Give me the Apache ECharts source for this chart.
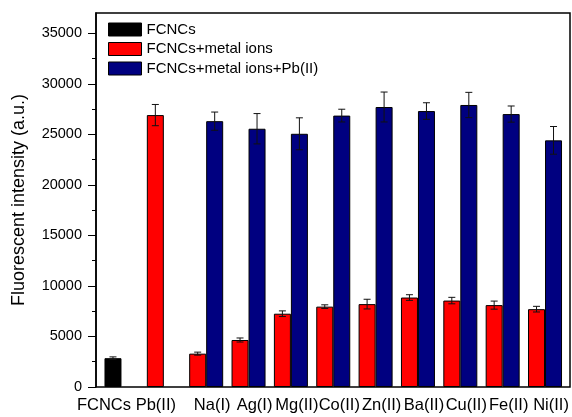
<!DOCTYPE html>
<html>
<head>
<meta charset="utf-8">
<script src="https://cdn.jsdelivr.net/npm/echarts@6/dist/echarts.min.js"></script>
<style>
html,body{margin:0;padding:0;background:#fff;}
#chart{width:572px;height:417px;}
</style>
</head>
<body>
<div id="chart"></div>
<script>
const categories = ['FCNCs','Pb(II)','Na(I)','Ag(I)','Mg(II)','Co(II)','Zn(II)','Ba(II)','Cu(II)','Fe(II)','Ni(II)'];
const fcncs      = [2850, null, null, null, null, null, null, null, null, null, null];
const fcncsErr   = [130, null, null, null, null, null, null, null, null, null, null];
const metal      = [null, 26900, 3300, 4650, 7250, 7950, 8200, 8850, 8550, 8100, 7700];
const metalErr   = [null, 1050, 150, 200, 280, 180, 480, 280, 320, 400, 280];
const metalPb    = [null, null, 26300, 25550, 25050, 26850, 27700, 27300, 27900, 27000, 24400];
const metalPbErr = [null, null, 900, 1500, 1580, 630, 1480, 820, 1250, 800, 1370];
const majorTicks = [0, 5000, 10000, 15000, 20000, 25000, 30000, 35000];
const minorTicks = [2500, 7500, 12500, 17500, 22500, 27500, 32500];

const FONT = 'Liberation Sans, Arial, sans-serif';
const BAR_W = 17;

function errData(vals, errs) {
  const out = [];
  vals.forEach((v, i) => { if (v != null && errs[i] != null) out.push([i, v, errs[i]]); });
  return out;
}
function errSeries(vals, errs, offset) {
  return {
    type: 'custom', name: 'err', coordinateSystem: 'cartesian2d', xAxisIndex: 1, yAxisIndex: 2, z: 10,
    data: errData(vals, errs),
    encode: { x: 0, y: 1 },
    renderItem(params, api) {
      const i = api.value(0), v = api.value(1), e = api.value(2);
      const top = api.coord([i, v + e]);
      const bot = api.coord([i, v - e]);
      const x = top[0] + offset;
      const cap = 3.5;
      const st = { stroke: '#111', lineWidth: 1 };
      return { type: 'group', children: [
        { type: 'line', shape: { x1: x, y1: top[1], x2: x, y2: bot[1] }, style: st },
        { type: 'line', shape: { x1: x - cap, y1: top[1], x2: x + cap, y2: top[1] }, style: st },
        { type: 'line', shape: { x1: x - cap, y1: bot[1], x2: x + cap, y2: bot[1] }, style: st }
      ]};
    }
  };
}

const chart = echarts.init(document.getElementById('chart'), null, { renderer: 'canvas' });
chart.setOption({
  animation: false,
  backgroundColor: '#fff',
  textStyle: { fontFamily: FONT, color: '#000' },
  legend: {
    data: ['FCNCs', 'FCNCs+metal ions', 'FCNCs+metal ions+Pb(II)'],
    orient: 'vertical', left: 108, top: 22, itemGap: 4.5, padding: 0,
    itemWidth: 33, itemHeight: 13, icon: 'rect',
    itemStyle: { borderColor: '#000', borderWidth: 1 },
    textStyle: { fontFamily: FONT, fontSize: 15, color: '#000' }
  },
  grid: [
    { left: 96, right: 2, top: 13, bottom: 30, show: true, borderColor: '#000', borderWidth: 1.5 },
    { left: 100.3, right: 5.8, top: 13, bottom: 30 }
  ],
  xAxis: [
    { type: 'value', gridIndex: 0, show: false, min: 0, max: 1 },
    {
      type: 'category', gridIndex: 1, data: categories,
      axisLine: { show: false }, axisTick: { show: false },
      axisLabel: {
        interval: 0, margin: 10, color: '#000', fontFamily: FONT, fontSize: 16.5,
        formatter: (v, i) => (i === 0 ? '{a|' : i === 1 ? '{b|' : '{c|') + v + '}',
        rich: {
          a: { fontFamily: FONT, fontSize: 16.5, color: '#000', padding: [0, 35, 0, 0] },
          b: { fontFamily: FONT, fontSize: 16.5, color: '#000', padding: [0, 16, 0, 0] },
          c: { fontFamily: FONT, fontSize: 16.5, color: '#000', padding: [0, 0, 0, 12] }
        }
      }
    }
  ],
  yAxis: [
    {
      type: 'value', gridIndex: 0, min: 0, max: 37000, interval: 5000,
      name: 'Fluorescent intensity (a.u.)', nameLocation: 'middle', nameGap: 68,
      nameTextStyle: { fontFamily: FONT, fontSize: 18, color: '#000' },
      axisLine: { show: true, lineStyle: { color: '#000', width: 1.5 } },
      axisTick: { show: true, length: 8, customValues: majorTicks, lineStyle: { color: '#000', width: 1 } },
      axisLabel: { margin: 14, color: '#000', fontFamily: FONT, fontSize: 14.5, customValues: majorTicks,
        formatter: v => String(v) },
      splitLine: { show: false }
    },
    {
      type: 'value', gridIndex: 0, min: 0, max: 37000, interval: 5000, position: 'left',
      axisLine: { show: false },
      axisTick: { show: true, length: 4, customValues: minorTicks, lineStyle: { color: '#000', width: 1 } },
      axisLabel: { show: false },
      splitLine: { show: false }
    },
    { type: 'value', gridIndex: 1, min: 0, max: 37000, show: false, splitLine: { show: false } }
  ],
  series: [
    { type: 'bar', name: 'FCNCs', xAxisIndex: 1, yAxisIndex: 2, stack: 'a', data: fcncs,
      barWidth: BAR_W, barGap: '0%', itemStyle: { color: '#000000', borderColor: '#000', borderWidth: 1 } },
    { type: 'bar', name: 'FCNCs+metal ions', xAxisIndex: 1, yAxisIndex: 2, stack: 'a', data: metal,
      barWidth: BAR_W, barGap: '0%', itemStyle: { color: '#FF0000', borderColor: '#000', borderWidth: 1 } },
    { type: 'bar', name: 'FCNCs+metal ions+Pb(II)', xAxisIndex: 1, yAxisIndex: 2, data: metalPb,
      barWidth: BAR_W, barGap: '0%', itemStyle: { color: '#000080', borderColor: '#000', borderWidth: 1 } },
    errSeries(fcncs, fcncsErr, -BAR_W / 2),
    errSeries(metal, metalErr, -BAR_W / 2),
    errSeries(metalPb, metalPbErr, BAR_W / 2)
  ]
});
</script>
</body>
</html>
